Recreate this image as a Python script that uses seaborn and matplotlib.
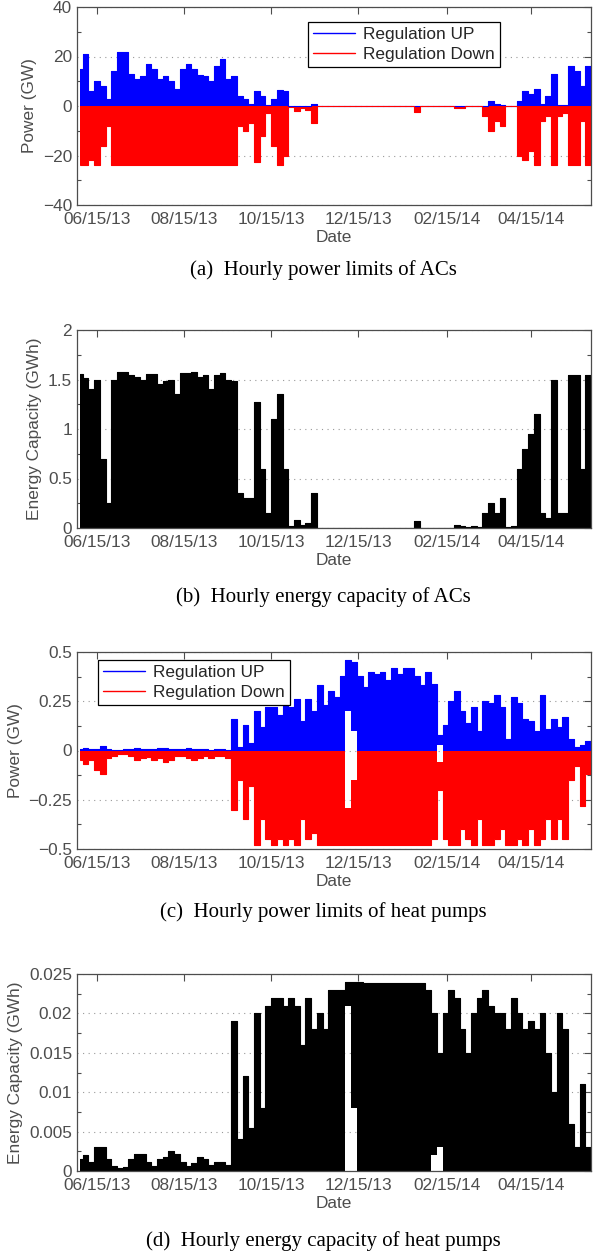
import numpy as np
import pandas as pd
import matplotlib
matplotlib.use('Agg')
import matplotlib.pyplot as plt
import matplotlib.dates as mdates
import seaborn as sns

# Values: peak of each 4-day bin, first bin centred on 06/03/13

dates = pd.date_range('2013-06-03', periods=91, freq='4D')

# (a) ACs, power limits (GW)
ac_up = [15, 21, 6, 10, 8, 3, 14, 22, 22, 13,
         11, 12, 17, 15, 11, 12, 10, 7, 15, 17,
         15, 12.5, 12, 10, 16, 19, 11, 12, 4, 3,
         1, 6, 4, 0.5, 3, 6.5, 6, 0, 0, 0,
         0, 0.8, 0, 0, 0, 0, 0, 0, 0, 0,
         0, 0, 0, 0, 0, 0, 0, 0, 0, 0,
         0, 0, 0, 0, 0, 0, 0, 0, 0, 0,
         0, 0, 2, 1, 0.5, 0, 0, 2, 6, 5,
         7, 1, 4, 13, 0.3, 0.5, 16, 14, 8, 16,
         10]
ac_down = [-24, -24, -22, -24, -16, -8, -24, -24, -24, -24,
           -24, -24, -24, -24, -24, -24, -24, -24, -24, -24,
           -24, -24, -24, -24, -24, -24, -24, -24, -8, -10,
           -7, -22.5, -12, -3, -16, -24, -20, -0.5, -2, -1,
           -1.5, -7, -0.2, -0.2, -0.2, -0.2, -0.2, -0.2, -0.2, -0.2,
           -0.2, -0.2, -0.2, -0.2, -0.2, -0.2, -0.2, -0.2, -0.2, -2.5,
           -0.2, -0.2, -0.2, -0.2, -0.2, -0.2, -0.8, -0.8, -0.2, -0.2,
           -0.2, -4, -10, -6, -8, -0.2, -0.2, -20, -22, -18,
           -24, -6, -4, -24, -4, -3, -24, -24, -6, -24,
           -24]

# (b) ACs, energy capacity (GWh)
ac_energy = [1.56, 1.52, 1.4, 1.5, 0.7, 0.25, 1.5, 1.58, 1.58, 1.55,
             1.53, 1.5, 1.56, 1.56, 1.45, 1.48, 1.5, 1.35, 1.57, 1.57,
             1.58, 1.53, 1.55, 1.4, 1.55, 1.57, 1.5, 1.48, 0.35, 0.3,
             0.3, 1.27, 0.6, 0.15, 1.1, 1.35, 0.6, 0.02, 0.08, 0.03,
             0.05, 0.35, 0.005, 0.005, 0.005, 0.005, 0.005, 0.005, 0.005, 0.005,
             0.005, 0.005, 0.005, 0.005, 0.005, 0.005, 0.005, 0.005, 0.005, 0.07,
             0.005, 0.005, 0.005, 0.005, 0.005, 0.005, 0.03, 0.02, 0.01, 0.02,
             0.01, 0.15, 0.25, 0.15, 0.3, 0.01, 0.02, 0.6, 0.8, 0.95,
             1.15, 0.15, 0.1, 1.5, 0.15, 0.15, 1.55, 1.55, 0.6, 1.55,
             1.45]

# (c) heat pumps, power limits (GW): peak and floor of each bin
hp_up = [0.01, 0.015, 0.008, 0.01, 0.025, 0.01, 0.005, 0.005, 0.01, 0.01,
         0.012, 0.008, 0.01, 0.01, 0.015, 0.012, 0.008, 0.01, 0.01, 0.012,
         0.01, 0.008, 0.01, 0.005, 0.01, 0.008, 0.005, 0.16, 0.02, 0.13,
         0.04, 0.2, 0.12, 0.22, 0.22, 0.18, 0.27, 0.22, 0.26, 0.15,
         0.26, 0.2, 0.33, 0.23, 0.3, 0.27, 0.38, 0.46, 0.45, 0.38,
         0.32, 0.4, 0.39, 0.4, 0.36, 0.42, 0.39, 0.42, 0.42, 0.38,
         0.33, 0.4, 0.34, 0.08, 0.13, 0.25, 0.3, 0.2, 0.14, 0.22,
         0.1, 0.25, 0.24, 0.28, 0.22, 0.06, 0.27, 0.24, 0.16, 0.15,
         0.1, 0.28, 0.11, 0.16, 0.12, 0.17, 0.06, 0.02, 0.03, 0.05,
         0.02]
hp_up_floor = [0, 0, 0, 0, 0, 0, 0, 0, 0, 0,
               0, 0, 0, 0, 0, 0, 0, 0, 0, 0,
               0, 0, 0, 0, 0, 0, 0, 0, 0, 0,
               0, 0, 0, 0, 0, 0, 0, 0, 0, 0,
               0, 0, 0, 0, 0, 0, 0, 0.2, 0.1, 0,
               0, 0, 0, 0, 0, 0, 0, 0, 0, 0,
               0, 0, 0, 0.03, 0, 0, 0, 0, 0, 0,
               0, 0, 0, 0, 0, 0, 0, 0, 0, 0,
               0, 0, 0, 0, 0, 0, 0, 0, 0, 0,
               0]
hp_down = [-0.05, -0.07, -0.05, -0.1, -0.12, -0.04, -0.03, -0.02, -0.02, -0.03,
           -0.05, -0.04, -0.035, -0.05, -0.04, -0.06, -0.05, -0.03, -0.03, -0.04,
           -0.05, -0.04, -0.03, -0.04, -0.03, -0.03, -0.04, -0.3, -0.15, -0.35,
           -0.18, -0.48, -0.35, -0.45, -0.48, -0.45, -0.48, -0.45, -0.48, -0.35,
           -0.45, -0.42, -0.48, -0.48, -0.48, -0.48, -0.48, -0.48, -0.48, -0.48,
           -0.48, -0.48, -0.48, -0.48, -0.48, -0.48, -0.48, -0.48, -0.48, -0.48,
           -0.48, -0.48, -0.45, -0.2, -0.45, -0.48, -0.48, -0.4, -0.45, -0.48,
           -0.35, -0.48, -0.48, -0.45, -0.4, -0.48, -0.48, -0.45, -0.48, -0.4,
           -0.48, -0.45, -0.35, -0.45, -0.35, -0.45, -0.15, -0.08, -0.28, -0.12,
           -0.1]
hp_down_floor = [0, 0, 0, 0, 0, 0, 0, 0, 0, 0,
                 0, 0, 0, 0, 0, 0, 0, 0, 0, 0,
                 0, 0, 0, 0, 0, 0, 0, 0, 0, 0,
                 0, 0, 0, 0, 0, 0, 0, 0, 0, 0,
                 0, 0, 0, 0, 0, 0, 0, -0.29, -0.15, 0,
                 0, 0, 0, 0, 0, 0, 0, 0, 0, 0,
                 0, 0, 0, -0.06, 0, 0, 0, 0, 0, 0,
                 0, 0, 0, 0, 0, 0, 0, 0, 0, 0,
                 0, 0, 0, 0, 0, 0, 0, 0, 0, 0,
                 0]

# (d) heat pumps, energy capacity (GWh)
hp_energy = [0.0015, 0.002, 0.0012, 0.003, 0.003, 0.0015, 0.0006, 0.0004, 0.0005, 0.0015,
             0.0022, 0.0022, 0.0012, 0.0006, 0.0015, 0.0018, 0.0025, 0.0022, 0.0012, 0.0006,
             0.001, 0.0018, 0.0015, 0.0008, 0.0012, 0.0012, 0.0008, 0.019, 0.004, 0.012,
             0.0055, 0.02, 0.008, 0.021, 0.022, 0.022, 0.021, 0.022, 0.021, 0.016,
             0.022, 0.018, 0.02, 0.018, 0.023, 0.023, 0.023, 0.024, 0.024, 0.024,
             0.0238, 0.0238, 0.0238, 0.0238, 0.0238, 0.0238, 0.0238, 0.0238, 0.0238, 0.0238,
             0.0238, 0.023, 0.02, 0.015, 0.02, 0.023, 0.022, 0.018, 0.015, 0.02,
             0.022, 0.023, 0.021, 0.02, 0.02, 0.018, 0.022, 0.02, 0.018, 0.019,
             0.018, 0.02, 0.015, 0.01, 0.02, 0.018, 0.006, 0.003, 0.011, 0.003,
             0.002]
hp_energy_floor = [0, 0, 0, 0, 0, 0, 0, 0, 0, 0,
                   0, 0, 0, 0, 0, 0, 0, 0, 0, 0,
                   0, 0, 0, 0, 0, 0, 0, 0, 0, 0,
                   0, 0, 0, 0, 0, 0, 0, 0, 0, 0,
                   0, 0, 0, 0, 0, 0, 0, 0.021, 0.008, 0,
                   0, 0, 0, 0, 0, 0, 0, 0, 0, 0,
                   0, 0, 0.002, 0.003, 0, 0, 0, 0, 0, 0,
                   0, 0, 0, 0, 0, 0, 0, 0, 0, 0,
                   0, 0, 0, 0, 0, 0, 0, 0, 0, 0,
                   0]

xtick_dates = pd.to_datetime(['2013-06-15', '2013-08-15', '2013-10-15',
                              '2013-12-15', '2014-02-15', '2014-04-15'])
captions = ['(a)  Hourly power limits of ACs',
            '(b)  Hourly energy capacity of ACs',
            '(c)  Hourly power limits of heat pumps',
            '(d)  Hourly energy capacity of heat pumps']

sns.set_style('white')
plt.rcParams['font.family'] = ['Liberation Sans', 'DejaVu Sans']

W, H = 593, 1253
fig = plt.figure(figsize=(W / 100, H / 100), dpi=100)
grey = '#4d4d4d'
fs = 12.4


def make_ax(top, bottom):
    return fig.add_axes([77 / W, 1 - bottom / H, (591 - 77) / W, (bottom - top) / H])


def series(ax, floor, peak, color, label=None):
    # hourly data drawn as 4-day blocks between floor and peak
    ax.fill_between(dates, floor, peak, step='mid', color=color, lw=0)
    sns.lineplot(x=dates, y=peak, color=color, lw=0.8, ax=ax, label=label,
                 drawstyle='steps-mid')


def style(ax, ylim, yticks, ylabels, minor, ylabel):
    ax.set_xlim(pd.Timestamp('2013-06-01'), pd.Timestamp('2014-05-27'))
    ax.set_ylim(ylim)
    ax.set_xticks(xtick_dates)
    ax.xaxis.set_major_formatter(mdates.DateFormatter('%m/%d/%y'))
    ax.set_yticks(yticks)
    ax.set_yticklabels(ylabels)
    ax.set_yticks(minor, minor=True)
    ax.tick_params(which='major', direction='in', top=True, right=True, length=5,
                   width=0.8, colors=grey, labelsize=fs)
    ax.tick_params(axis='x', pad=5)
    ax.tick_params(axis='y', which='minor', direction='in', left=True, right=True,
                   length=3, width=0.8, colors=grey)
    for s in ax.spines.values():
        s.set_color(grey)
        s.set_linewidth(0.9)
    ax.grid(True, axis='y', which='major', linestyle=(0, (1, 4)), color='#999999', lw=0.8)
    ax.set_axisbelow(True)
    ax.set_xlabel('Date', fontsize=fs, color=grey, labelpad=2)
    ax.set_ylabel(ylabel, fontsize=fs, color=grey, labelpad=4)


def leg(ax, x, y):
    lg = ax.legend(loc='upper left', bbox_to_anchor=(x / W, 1 - y / H),
                   bbox_transform=fig.transFigure, fontsize=fs, frameon=True,
                   fancybox=False, edgecolor='black', framealpha=1,
                   borderaxespad=0, borderpad=0.3, labelspacing=0.25,
                   handlelength=2.4, handletextpad=0.5)
    lg.get_frame().set_linewidth(0.9)
    for h in lg.get_lines():
        h.set_linewidth(1.0)


# (a)
ax = make_ax(7, 205)
series(ax, 0, ac_up, 'blue', 'Regulation UP')
series(ax, 0, ac_down, 'red', 'Regulation Down')
style(ax, (-40, 40), [-40, -20, 0, 20, 40], ['\u221240', '\u221220', '0', '20', '40'],
      [-30, -10, 10, 30], 'Power (GW)')
leg(ax, 308, 22)

# (b)
ax = make_ax(330, 528)
series(ax, 0, ac_energy, 'black')
style(ax, (0, 2), [0, 0.5, 1, 1.5, 2], ['0', '0.5', '1', '1.5', '2'],
      [0.25, 0.75, 1.25, 1.75], 'Energy Capacity (GWh)')

# (c)
ax = make_ax(652, 849)
series(ax, hp_up_floor, hp_up, 'blue', 'Regulation UP')
series(ax, hp_down_floor, hp_down, 'red', 'Regulation Down')
style(ax, (-0.5, 0.5), [-0.5, -0.25, 0, 0.25, 0.5],
      ['\u22120.5', '\u22120.25', '0', '0.25', '0.5'],
      [-0.375, -0.125, 0.125, 0.375], 'Power (GW)')
leg(ax, 98, 660)

# (d)
ax = make_ax(974, 1171)
series(ax, hp_energy_floor, hp_energy, 'black')
style(ax, (0, 0.025), [0, 0.005, 0.01, 0.015, 0.02, 0.025],
      ['0', '0.005', '0.01', '0.015', '0.02', '0.025'],
      [0.0025, 0.0075, 0.0125, 0.0175, 0.0225], 'Energy Capacity (GWh)')

for cap, y in zip(captions, [270, 597, 912, 1241]):
    fig.text(0.545, 1 - y / H, cap, ha='center', va='center',
             family=['Liberation Serif', 'DejaVu Serif'], fontsize=15, color='black')

fig.savefig('out.png', dpi=100)
